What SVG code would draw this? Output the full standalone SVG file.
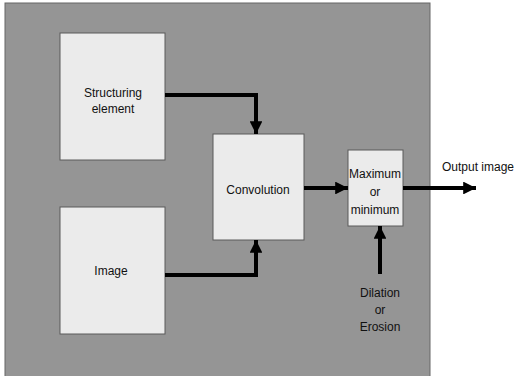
<svg xmlns="http://www.w3.org/2000/svg" width="517" height="376" viewBox="0 0 517 376">
<defs>
<style>
.box{fill:#ebebeb;stroke:#5a5a5a;stroke-width:1}
.t{font-family:"Liberation Sans",Arial,sans-serif;font-size:12px;fill:#111;text-anchor:middle}
.c{fill:none;stroke:#000;stroke-width:4}
</style>
<marker id="ah" viewBox="0 0 10 10" refX="10" refY="5" markerWidth="3.2" markerHeight="3.2" orient="auto" markerUnits="strokeWidth">
<path d="M0,0 L10,5 L0,10 z" fill="#000"/>
</marker>
</defs>
<rect x="0" y="0" width="517" height="376" fill="#fff"/>
<rect x="5" y="3" width="425" height="380" fill="#959595" stroke="#666" stroke-width="1"/>
<g id="structuring">
<rect class="box" x="60" y="33" width="105" height="127"/>
<text class="t" x="113" y="97">Structuring</text>
<text class="t" x="113" y="113">element</text>
</g>
<g id="image">
<rect class="box" x="60" y="207" width="105" height="127"/>
<text class="t" x="111" y="275">Image</text>
</g>
<g id="convolution">
<rect class="box" x="213" y="134" width="91" height="106"/>
<text class="t" x="258" y="194">Convolution</text>
</g>
<g id="maxmin">
<rect class="box" x="348" y="150" width="55" height="76"/>
<text class="t" x="375" y="178">Maximum</text>
<text class="t" x="375" y="196">or</text>
<text class="t" x="375" y="214">minimum</text>
</g>
<g id="output">
<text class="t" x="478" y="171">Output image</text>
</g>
<g id="dilation">
<text class="t" x="380" y="297">Dilation</text>
<text class="t" x="380" y="314">or</text>
<text class="t" x="380" y="331">Erosion</text>
</g>
<g id="connectors">
<path class="c" d="M165,95 H256 V134" marker-end="url(#ah)"/>
<path class="c" d="M165,275 H256 V240" marker-end="url(#ah)"/>
<path class="c" d="M304,188 H348" marker-end="url(#ah)"/>
<path class="c" d="M403,188 H476" marker-end="url(#ah)"/>
<path class="c" d="M380,274 V226" marker-end="url(#ah)"/>
</g>
</svg>
